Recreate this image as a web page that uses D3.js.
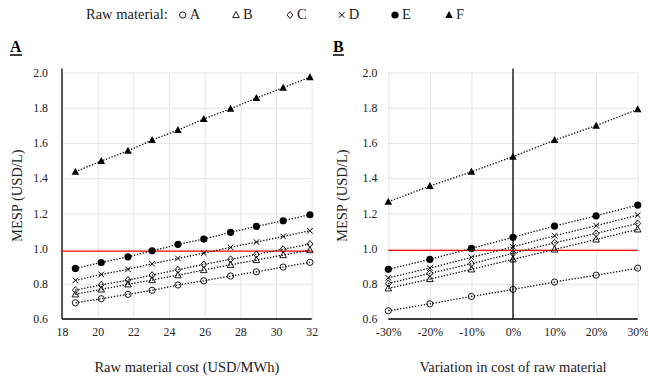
<!DOCTYPE html>
<html>
<head>
<meta charset="utf-8">
<script src="https://cdn.jsdelivr.net/npm/d3@7"></script>
<style>
  html, body { margin: 0; padding: 0; background: #fff; }
  svg { display: block; }
  svg text { font-family: "Liberation Serif", "Times New Roman", Tinos, "DejaVu Serif", serif !important; }
</style>
</head>
<body>
<svg id="chart" width="648" height="377"></svg>
<script>
// ─── Data ────────────────────────────────────────────────────────────────────

const seriesNames = ['A', 'B', 'C', 'D', 'E', 'F'];

// Panel A — MESP vs raw material cost (USD/MWh)
const costA = [18.75, 20.2, 21.7, 23.05, 24.5, 25.95, 27.45, 28.9, 30.4, 31.9];
const mespA_A = [0.692, 0.715, 0.740, 0.763, 0.793, 0.817, 0.844, 0.868, 0.895, 0.922];
const mespA_B = [0.740, 0.768, 0.797, 0.821, 0.849, 0.878, 0.908, 0.935, 0.963, 0.991];
const mespA_C = [0.764, 0.794, 0.821, 0.849, 0.880, 0.910, 0.939, 0.967, 0.996, 1.026];
const mespA_D = [0.819, 0.853, 0.882, 0.914, 0.944, 0.974, 1.007, 1.037, 1.069, 1.101];
const mespA_E = [0.887, 0.921, 0.953, 0.987, 1.024, 1.054, 1.092, 1.126, 1.158, 1.192];
const mespA_F = [1.436, 1.497, 1.555, 1.616, 1.673, 1.736, 1.794, 1.855, 1.914, 1.973];

// Panel B — MESP vs variation in cost of raw material
const variationB = ['-30%', '-20%', '-10%', '0%', '10%', '20%', '30%'];
const mespB_A = [0.647, 0.686, 0.728, 0.768, 0.810, 0.849, 0.889];
const mespB_B = [0.774, 0.827, 0.882, 0.939, 0.995, 1.052, 1.109];
const mespB_C = [0.802, 0.859, 0.914, 0.973, 1.033, 1.086, 1.143];
const mespB_D = [0.834, 0.889, 0.950, 1.010, 1.073, 1.130, 1.190];
const mespB_E = [0.882, 0.939, 1.001, 1.064, 1.128, 1.186, 1.247];
const mespB_F = [1.266, 1.355, 1.436, 1.522, 1.616, 1.698, 1.791];

const thresholdA = 0.985;   // red reference line
const thresholdB = 0.99;

const xTicksA = [18, 20, 22, 24, 26, 28, 30, 32];
const yTicks  = [0.6, 0.8, 1.0, 1.2, 1.4, 1.6, 1.8, 2.0];

// ─── Theme ───────────────────────────────────────────────────────────────────

const theme = {
  grid: '#e6e6e6',
  axis: '#000',
  text: '#222',
  red: '#ff0000',
  fontSize: '11.8px',
  titleSize: '14.5px',
};

const shapeOf = { A: 'circleOpen', B: 'triangleOpen', C: 'diamondOpen', D: 'cross', E: 'circle', F: 'triangle' };

// ─── Markers ─────────────────────────────────────────────────────────────────

function drawMarker(g, shape, cx, cy) {
  const m = g.append('g').attr('transform', `translate(${cx},${cy})`);
  switch (shape) {
    case 'circleOpen':
      m.append('circle').attr('r', 3.1).attr('fill', 'none').attr('stroke', '#000').attr('stroke-width', 0.9);
      break;
    case 'circle':
      m.append('circle').attr('r', 3.6).attr('fill', '#000');
      break;
    case 'triangleOpen':
      m.append('path').attr('d', 'M0,-3.6L3.3,2.6L-3.3,2.6Z').attr('fill', 'none').attr('stroke', '#000').attr('stroke-width', 0.9);
      break;
    case 'triangle':
      m.append('path').attr('d', 'M0,-4L3.8,3L-3.8,3Z').attr('fill', '#000');
      break;
    case 'diamondOpen':
      m.append('path').attr('d', 'M0,-3.5L3,0L0,3.5L-3,0Z').attr('fill', 'none').attr('stroke', '#000').attr('stroke-width', 0.9);
      break;
    case 'cross':
      m.append('path').attr('d', 'M-2.8,-2.8L2.8,2.8M-2.8,2.8L2.8,-2.8').attr('stroke', '#000').attr('stroke-width', 1);
      break;
  }
}

// ─── Panel ───────────────────────────────────────────────────────────────────

const svg = d3.select('#chart');
const yTop = 72.5, yBottom = 319;

function renderPanel(opts) {
  const { x, xs, series, threshold, left, right, label, xTitle, xTicks, tickFmt, showLeftAxis, zeroLine } = opts;
  const y = d3.scaleLinear().domain([0.6, 2.0]).range([yBottom, yTop]);
  const W = right - left;
  const g = svg.append('g');

  // horizontal grid
  g.append('g')
    .attr('transform', `translate(${left},0)`)
    .call(d3.axisLeft(y).tickValues(yTicks).tickSize(-W).tickFormat(''))
    .call(sel => {
      sel.selectAll('line').attr('stroke', theme.grid);
      sel.select('.domain').remove();
    });

  // vertical grid
  g.append('g')
    .attr('transform', `translate(0,${yBottom})`)
    .call(d3.axisBottom(x).tickValues(xTicks).tickSize(-(yBottom - yTop)).tickFormat(''))
    .call(sel => {
      sel.selectAll('line').attr('stroke', theme.grid);
      sel.select('.domain').remove();
    });

  // y tick labels
  g.append('g')
    .attr('transform', `translate(${left},0)`)
    .call(d3.axisLeft(y).tickValues(yTicks).tickSize(0).tickPadding(opts.yPad).tickFormat(d3.format('.1f')))
    .call(sel => {
      sel.select('.domain').remove();
      sel.attr('font-family', null).attr('font-size', null);
      sel.selectAll('text')
        .attr('fill', theme.text)
        .style('font-size', theme.fontSize);
    });

  // x tick labels
  g.append('g')
    .attr('transform', `translate(0,${yBottom})`)
    .call(d3.axisBottom(x).tickValues(xTicks).tickSize(0).tickPadding(9).tickFormat(tickFmt))
    .call(sel => {
      sel.select('.domain').remove();
      sel.attr('font-family', null).attr('font-size', null);
      sel.selectAll('text')
        .attr('fill', theme.text)
        .style('font-size', theme.fontSize);
    });

  g.append('line')
    .attr('x1', left).attr('x2', right)
    .attr('y1', yBottom).attr('y2', yBottom)
    .attr('stroke', theme.axis).attr('stroke-width', 1.5);

  if (showLeftAxis) {
    g.append('line')
      .attr('x1', left).attr('x2', left)
      .attr('y1', yTop - 4).attr('y2', yBottom)
      .attr('stroke', theme.axis).attr('stroke-width', 1.3);
  }

  if (zeroLine) {
    g.append('line')
      .attr('x1', x(zeroLine)).attr('x2', x(zeroLine))
      .attr('y1', yTop - 4).attr('y2', yBottom)
      .attr('stroke', theme.axis).attr('stroke-width', 1.3);
  }

  // red reference line
  g.append('line')
    .attr('x1', left).attr('x2', right + (opts.redExtra || 0))
    .attr('y1', y(threshold)).attr('y2', y(threshold))
    .attr('stroke', theme.red).attr('stroke-width', 1.3);

  // series lines
  const line = d3.line().x((d, i) => x(xs[i])).y(d => y(d));
  seriesNames.forEach((name, si) => {
    g.append('path')
      .attr('d', line(series[si]))
      .attr('fill', 'none')
      .attr('stroke', '#000')
      .attr('stroke-width', 1.3)
      .attr('stroke-dasharray', '1.3 1.7');
  });

  // markers on top
  seriesNames.forEach((name, si) => {
    series[si].forEach((v, i) => drawMarker(g, shapeOf[name], x(xs[i]), y(v)));
  });

  // panel label
  const lab = g.append('text')
    .attr('x', opts.labelX).attr('y', 52)
    .attr('font-weight', 'bold')
    .style('font-size', '16px')
    .attr('fill', '#000')
    .text(label);
  const bb = lab.node().getBBox();
  g.append('line')
    .attr('x1', bb.x).attr('x2', bb.x + bb.width)
    .attr('y1', 55).attr('y2', 55)
    .attr('stroke', '#000').attr('stroke-width', 1.5);

  // axis titles
  g.append('text')
    .attr('x', (left + right) / 2).attr('y', 372)
    .attr('text-anchor', 'middle')
    .style('font-size', theme.titleSize)
    .attr('fill', theme.text)
    .text(xTitle);

  g.append('text')
    .attr('transform', `translate(${opts.yTitleX},${(yTop + yBottom) / 2}) rotate(-90)`)
    .attr('text-anchor', 'middle')
    .style('font-size', theme.titleSize)
    .attr('fill', theme.text)
    .text('MESP (USD/L)');
}

// Panel A
renderPanel({
  x: d3.scaleLinear().domain([18, 32]).range([62, 311.7]),
  xs: costA,
  xTicks: xTicksA,
  tickFmt: d3.format('d'),
  series: [mespA_A, mespA_B, mespA_C, mespA_D, mespA_E, mespA_F],
  threshold: thresholdA,
  left: 62, right: 311.7,
  redExtra: 1,
  label: 'A', labelX: 10,
  xTitle: 'Raw material cost (USD/MWh)',
  yTitleX: 22, yPad: 14,
  showLeftAxis: true,
});

// Panel B
renderPanel({
  x: d3.scalePoint().domain(variationB).range([388.3, 637.7]),
  xs: variationB,
  xTicks: variationB,
  tickFmt: d => d,
  series: [mespB_A, mespB_B, mespB_C, mespB_D, mespB_E, mespB_F],
  threshold: thresholdB,
  left: 388.3, right: 637.7,
  label: 'B', labelX: 333,
  xTitle: 'Variation in cost of raw material',
  yTitleX: 347, yPad: 11,
  showLeftAxis: false,
  zeroLine: '0%',
});

// ─── Legend ──────────────────────────────────────────────────────────────────

const legend = svg.append('g');
legend.append('text')
  .attr('x', 86).attr('y', 19)
  .style('font-size', theme.titleSize)
  .attr('fill', theme.text)
  .text('Raw material:');

const legendX = [182.7, 236, 290, 341.7, 395, 449];
seriesNames.forEach((name, i) => {
  drawMarker(legend, shapeOf[name], legendX[i], 15);
  legend.append('text')
    .attr('x', legendX[i] + 7).attr('y', 19)
    .style('font-size', theme.titleSize)
    .attr('fill', theme.text)
    .text(name);
});
</script>
</body>
</html>
